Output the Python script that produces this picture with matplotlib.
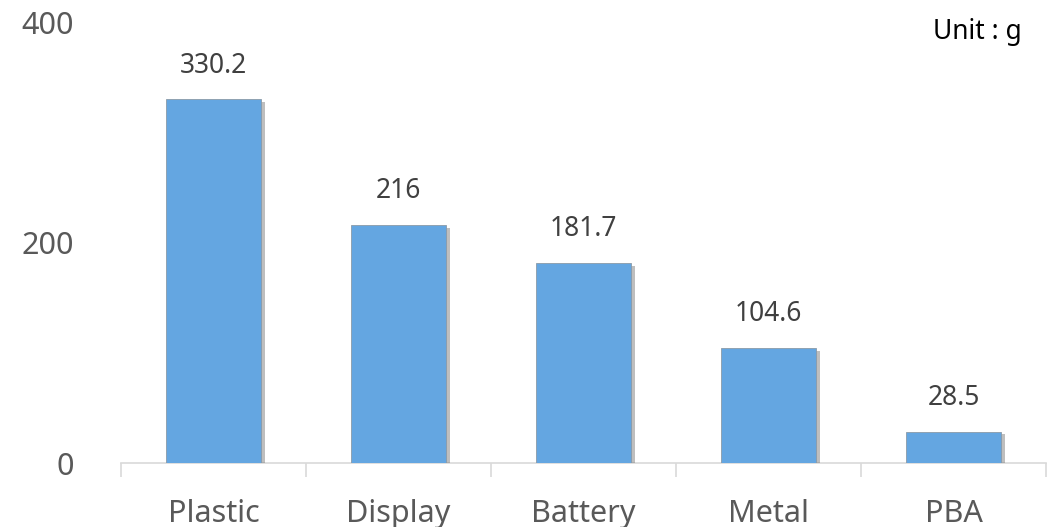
import matplotlib.pyplot as plt
import matplotlib.patheffects as pe
import numpy as np

categories = ['Plastic', 'Display', 'Battery', 'Metal', 'PBA']
weights = [330.2, 216, 181.7, 104.6, 28.5]
value_labels = ['330.2', '216', '181.7', '104.6', '28.5']

plt.rcParams['font.family'] = ['Noto Sans', 'DejaVu Sans']

fig = plt.figure(figsize=(10.61, 5.27), dpi=100)
ax = fig.add_axes([0.114, 0.1214, 0.872, 0.8366])

x = np.arange(len(categories))
bars = ax.bar(x, weights, width=0.51, color='#64a6e1', edgecolor='#8a9aa8', linewidth=0.6,
              zorder=3)
for b in bars:
    b.set_path_effects([pe.SimplePatchShadow(offset=(3, -2), shadow_rgbFace='#6f6f6f', alpha=0.45),
                        pe.Normal()])

for xi, v, lab in zip(x, weights, value_labels):
    ax.annotate(lab, (xi, v), xytext=(0, 14), textcoords='offset points',
                ha='center', va='bottom', fontsize=19, color='#404040')

ax.set_xlim(-0.5, len(categories) - 0.5)
ax.set_ylim(0, 400)
ax.set_yticks([0, 200, 400])
ax.set_xticks(x)
ax.set_xticklabels(categories)
ax.set_xticks(np.arange(len(categories) + 1) - 0.5, minor=True)

ax.tick_params(axis='x', which='major', length=0, pad=26, labelsize=22, labelcolor='#595959')
ax.tick_params(axis='x', which='minor', length=10, width=1.2, color='#d9d9d9')
ax.tick_params(axis='y', length=0, pad=34, labelsize=22, labelcolor='#595959')

for s in ['top', 'right', 'left']:
    ax.spines[s].set_visible(False)
ax.spines['bottom'].set_color('#d9d9d9')
ax.spines['bottom'].set_linewidth(1.2)

fig.text(0.963, 0.94, 'Unit : g', ha='right', va='center', fontsize=19, color='black')

fig.savefig('out.png', dpi=100)
